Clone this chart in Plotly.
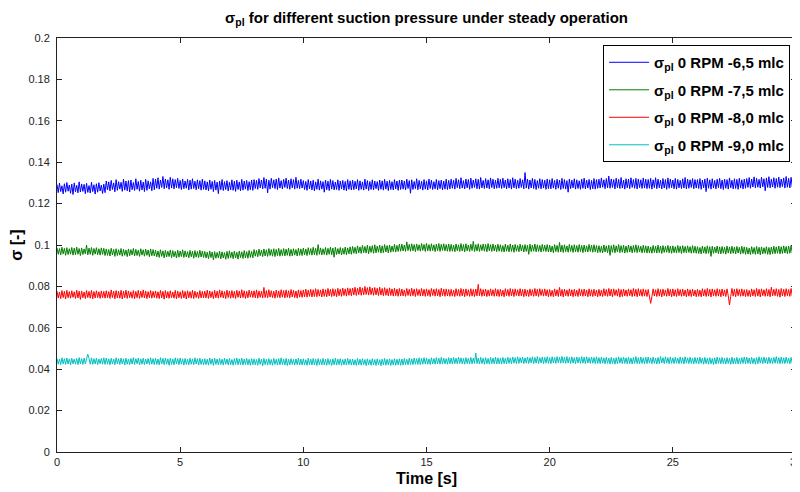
import numpy as np
import plotly.graph_objects as go

# time axis: 0 .. 30 s, 0.05 s sampling
t_start, t_end = 0.0, 30.0

# sigma_pl at 0 RPM, -6,5 mlc
sig_65 = [
0.1292,0.1253,0.1299,0.1258,0.1286,0.1247,0.1296,0.1255,0.1302,0.1260,0.1290,0.1250,0.1294,0.1244,0.1300,0.1257,0.1288,0.1252,0.1305,0.1256,0.1295,0.1259,0.1293,0.1248,0.1298,0.1254,0.1287,0.1251,0.1303,0.1258,0.1291,0.1246,0.1296,0.1255,0.1301,0.1261,0.1289,0.1249,0.1294,0.1253,
0.1309,0.1266,0.1305,0.1261,0.1312,0.1268,0.1300,0.1257,0.1316,0.1264,0.1306,0.1270,0.1303,0.1259,0.1318,0.1265,0.1309,0.1262,0.1311,0.1256,0.1314,0.1267,0.1302,0.1263,0.1320,0.1269,0.1307,0.1260,0.1313,0.1266,0.1304,0.1258,0.1317,0.1264,0.1310,0.1271,0.1305,0.1262,0.1322,0.1267,
0.1318,0.1274,0.1325,0.1270,0.1314,0.1278,0.1331,0.1272,0.1319,0.1276,0.1315,0.1269,0.1327,0.1275,0.1320,0.1271,0.1316,0.1277,0.1322,0.1273,0.1312,0.1268,0.1319,0.1272,0.1309,0.1274,0.1317,0.1266,0.1313,0.1270,0.1320,0.1273,0.1308,0.1267,0.1315,0.1271,0.1311,0.1265,0.1318,0.1269,
0.1310,0.1266,0.1305,0.1262,0.1314,0.1269,0.1307,0.1258,0.1312,0.1265,0.1304,0.1248,0.1309,0.1267,0.1316,0.1263,0.1306,0.1268,0.1311,0.1261,0.1303,0.1266,0.1315,0.1264,0.1308,0.1259,0.1313,0.1268,0.1305,0.1262,0.1317,0.1265,0.1309,0.1270,0.1312,0.1263,0.1306,0.1267,0.1314,0.1264,
0.1316,0.1273,0.1312,0.1269,0.1321,0.1276,0.1314,0.1271,0.1326,0.1274,0.1318,0.1252,0.1313,0.1270,0.1322,0.1277,0.1315,0.1272,0.1319,0.1268,0.1324,0.1275,0.1311,0.1271,0.1317,0.1278,0.1323,0.1273,0.1314,0.1269,0.1320,0.1276,0.1316,0.1270,0.1327,0.1274,0.1312,0.1272,0.1318,0.1275,
0.1311,0.1268,0.1307,0.1264,0.1316,0.1271,0.1309,0.1266,0.1313,0.1262,0.1305,0.1269,0.1318,0.1265,0.1310,0.1270,0.1306,0.1255,0.1314,0.1267,0.1308,0.1263,0.1317,0.1270,0.1311,0.1266,0.1304,0.1268,0.1315,0.1264,0.1309,0.1271,0.1312,0.1265,0.1307,0.1262,0.1316,0.1269,0.1310,0.1266,
0.1313,0.1267,0.1308,0.1271,0.1316,0.1264,0.1310,0.1269,0.1305,0.1265,0.1318,0.1270,0.1311,0.1263,0.1307,0.1268,0.1315,0.1266,0.1309,0.1272,0.1306,0.1264,0.1314,0.1269,0.1310,0.1265,0.1317,0.1270,0.1308,0.1263,0.1312,0.1268,0.1306,0.1266,0.1316,0.1271,0.1309,0.1264,0.1313,0.1268,
0.1314,0.1270,0.1309,0.1266,0.1318,0.1273,0.1311,0.1250,0.1315,0.1268,0.1307,0.1272,0.1320,0.1267,0.1312,0.1271,0.1308,0.1265,0.1316,0.1270,0.1310,0.1266,0.1319,0.1273,0.1313,0.1268,0.1306,0.1271,0.1317,0.1267,0.1311,0.1272,0.1314,0.1266,0.1309,0.1270,0.1318,0.1268,0.1312,0.1271,
0.1318,0.1274,0.1313,0.1270,0.1322,0.1277,0.1315,0.1272,0.1325,0.1275,0.1311,0.1271,0.1319,0.1276,0.1316,0.1269,0.1323,0.1274,0.1314,0.1278,0.1320,0.1272,0.1317,0.1270,0.1326,0.1276,0.1312,0.1273,0.1321,0.1275,0.1315,0.1271,0.1324,0.1277,0.1318,0.1272,0.1313,0.1274,0.1322,0.1276,
0.1317,0.1273,0.1323,0.1277,0.1314,0.1271,0.1320,0.1275,0.1316,0.1270,0.1325,0.1276,0.1318,0.1272,0.1313,0.1274,0.1321,0.1278,0.1315,0.1271,0.1350,0.1275,0.1319,0.1270,0.1314,0.1276,0.1322,0.1273,0.1317,0.1268,0.1311,0.1274,0.1320,0.1271,0.1316,0.1275,0.1313,0.1269,0.1319,0.1272,
0.1315,0.1271,0.1321,0.1275,0.1312,0.1269,0.1318,0.1274,0.1314,0.1268,0.1322,0.1273,0.1316,0.1270,0.1311,0.1255,0.1319,0.1272,0.1313,0.1276,0.1320,0.1270,0.1315,0.1273,0.1310,0.1269,0.1318,0.1274,0.1323,0.1271,0.1314,0.1275,0.1317,0.1268,0.1312,0.1272,0.1321,0.1270,0.1316,0.1274,
0.1318,0.1275,0.1324,0.1279,0.1315,0.1272,0.1321,0.1276,0.1333,0.1274,0.1319,0.1278,0.1316,0.1271,0.1323,0.1277,0.1317,0.1273,0.1326,0.1275,0.1314,0.1270,0.1320,0.1276,0.1318,0.1272,0.1325,0.1278,0.1316,0.1274,0.1322,0.1271,0.1319,0.1277,0.1315,0.1273,0.1324,0.1275,0.1318,0.1272,
0.1317,0.1274,0.1322,0.1270,0.1315,0.1277,0.1325,0.1272,0.1318,0.1276,0.1313,0.1271,0.1321,0.1275,0.1316,0.1269,0.1324,0.1274,0.1319,0.1277,0.1314,0.1272,0.1322,0.1270,0.1317,0.1276,0.1312,0.1273,0.1320,0.1275,0.1326,0.1271,0.1318,0.1274,0.1315,0.1278,0.1321,0.1272,0.1316,0.1275,
0.1316,0.1273,0.1321,0.1269,0.1314,0.1276,0.1319,0.1258,0.1323,0.1274,0.1315,0.1270,0.1320,0.1275,0.1312,0.1271,0.1318,0.1277,0.1322,0.1272,0.1314,0.1268,0.1319,0.1274,0.1316,0.1270,0.1324,0.1276,0.1313,0.1271,0.1320,0.1273,0.1317,0.1269,0.1322,0.1275,0.1315,0.1271,0.1318,0.1274,
0.1321,0.1278,0.1326,0.1274,0.1319,0.1280,0.1329,0.1276,0.1322,0.1279,0.1317,0.1275,0.1327,0.1281,0.1320,0.1262,0.1324,0.1278,0.1330,0.1276,0.1318,0.1280,0.1325,0.1274,0.1321,0.1279,0.1328,0.1277,0.1319,0.1282,0.1324,0.1275,0.1331,0.1279,0.1322,0.1276,0.1327,0.1280,0.1320,0.1278,
0.1305]

# sigma_pl at 0 RPM, -7,5 mlc
sig_75 = [
0.0986,0.0955,0.0983,0.0952,0.0989,0.0957,0.0984,0.0950,0.0987,0.0954,0.0982,0.0956,0.0988,0.0951,0.0985,0.0953,0.0990,0.0955,0.0983,0.0949,0.0986,0.0954,0.0981,0.0957,0.1000,0.0952,0.0985,0.0955,0.0988,0.0950,0.0983,0.0956,0.0987,0.0953,0.0982,0.0951,0.0986,0.0955,0.0984,0.0949,
0.0981,0.0950,0.0978,0.0947,0.0984,0.0952,0.0979,0.0945,0.0982,0.0949,0.0977,0.0951,0.0983,0.0946,0.0980,0.0950,0.0976,0.0944,0.0981,0.0948,0.0978,0.0952,0.0983,0.0947,0.0979,0.0949,0.0975,0.0945,0.0982,0.0951,0.0977,0.0946,0.0980,0.0950,0.0976,0.0943,0.0981,0.0948,0.0978,0.0947,
0.0975,0.0943,0.0971,0.0940,0.0977,0.0945,0.0972,0.0938,0.0974,0.0942,0.0970,0.0944,0.0976,0.0939,0.0973,0.0943,0.0969,0.0937,0.0975,0.0941,0.0971,0.0944,0.0977,0.0940,0.0972,0.0942,0.0968,0.0938,0.0974,0.0943,0.0970,0.0936,0.0973,0.0941,0.0969,0.0939,0.0975,0.0942,0.0971,0.0940,
0.0969,0.0937,0.0965,0.0934,0.0971,0.0939,0.0966,0.0928,0.0968,0.0936,0.0964,0.0938,0.0970,0.0933,0.0967,0.0937,0.0963,0.0931,0.0969,0.0935,0.0972,0.0938,0.0966,0.0934,0.0970,0.0937,0.0965,0.0932,0.0971,0.0939,0.0967,0.0935,0.0973,0.0938,0.0968,0.0936,0.0974,0.0940,0.0969,0.0938,
0.0978,0.0946,0.0974,0.0943,0.0980,0.0948,0.0975,0.0944,0.0981,0.0947,0.0977,0.0945,0.0983,0.0949,0.0978,0.0946,0.0982,0.0944,0.0979,0.0948,0.0984,0.0946,0.0978,0.0949,0.0983,0.0947,0.0980,0.0950,0.0985,0.0946,0.0979,0.0948,0.0982,0.0951,0.0978,0.0947,0.0984,0.0950,0.0981,0.0949,
0.0985,0.0952,0.0981,0.0949,0.0987,0.0954,0.0983,0.0951,0.0989,0.0953,0.0984,0.0950,0.1002,0.0955,0.0986,0.0952,0.0982,0.0954,0.0988,0.0951,0.0984,0.0955,0.0990,0.0953,0.0985,0.0941,0.0989,0.0954,0.0983,0.0956,0.0988,0.0952,0.0984,0.0955,0.0990,0.0953,0.0986,0.0957,0.0991,0.0955,
0.0993,0.0960,0.0989,0.0958,0.0996,0.0962,0.0991,0.0959,0.0998,0.0963,0.0993,0.0961,0.0999,0.0958,0.0994,0.0964,0.0997,0.0960,0.1001,0.0962,0.0995,0.0965,0.0999,0.0961,0.0996,0.0963,0.1002,0.0966,0.0997,0.0962,0.1000,0.0965,0.0995,0.0968,0.1003,0.0966,0.0998,0.0969,0.1004,0.0970,
0.1004,0.0971,0.1000,0.0969,0.1015,0.0973,0.1003,0.0970,0.1006,0.0972,0.1002,0.0968,0.1005,0.0973,0.1001,0.0970,0.1007,0.0974,0.1003,0.0969,0.1008,0.0972,0.1002,0.0970,0.1006,0.0973,0.1001,0.0968,0.1004,0.0972,0.1007,0.0969,0.1003,0.0974,0.1006,0.0971,0.1002,0.0970,0.1005,0.0969,
0.1003,0.0970,0.0999,0.0967,0.1005,0.0972,0.1001,0.0969,0.1007,0.0971,0.1002,0.0967,0.1006,0.0972,0.1000,0.0969,0.1004,0.0973,0.1018,0.0968,0.1002,0.0971,0.1006,0.0969,0.1001,0.0973,0.1005,0.0970,0.1003,0.0967,0.1007,0.0972,0.1002,0.0969,0.1005,0.0971,0.1000,0.0968,0.1004,0.0970,
0.1001,0.0968,0.0997,0.0966,0.1004,0.0970,0.0999,0.0967,0.1005,0.0969,0.1000,0.0965,0.1003,0.0970,0.0998,0.0967,0.1004,0.0971,0.1000,0.0966,0.1002,0.0969,0.0999,0.0955,0.1004,0.0968,0.1000,0.0970,0.1005,0.0967,0.1001,0.0969,0.0998,0.0966,0.1003,0.0970,0.0999,0.0968,0.1002,0.0966,
0.0999,0.0966,0.0995,0.0963,0.1002,0.0968,0.0998,0.0965,0.1012,0.0967,0.0999,0.0964,0.1001,0.0968,0.0996,0.0965,0.1003,0.0969,0.0998,0.0964,0.1001,0.0967,0.0997,0.0965,0.1002,0.0968,0.0998,0.0963,0.1000,0.0967,0.0996,0.0966,0.1003,0.0969,0.0999,0.0965,0.1001,0.0967,0.0997,0.0963,
0.0997,0.0964,0.0993,0.0962,0.1000,0.0966,0.0996,0.0963,0.0999,0.0950,0.0997,0.0965,0.1001,0.0962,0.0996,0.0966,0.1002,0.0963,0.0997,0.0965,0.0999,0.0961,0.0995,0.0964,0.1000,0.0966,0.0996,0.0962,0.0998,0.0965,0.1001,0.0963,0.0997,0.0966,0.0994,0.0962,0.0999,0.0964,0.0996,0.0961,
0.0995,0.0962,0.0991,0.0960,0.0998,0.0964,0.0994,0.0961,0.0999,0.0963,0.0995,0.0959,0.0997,0.0964,0.0993,0.0965,0.0998,0.0962,0.0994,0.0960,0.0996,0.0963,0.0992,0.0961,0.0998,0.0964,0.0994,0.0959,0.0997,0.0963,0.0993,0.0962,0.0996,0.0964,0.0992,0.0960,0.0997,0.0962,0.0994,0.0960,
0.0992,0.0959,0.0988,0.0957,0.0995,0.0961,0.0991,0.0958,0.0996,0.0960,0.0992,0.0945,0.0994,0.0960,0.0990,0.0962,0.0995,0.0958,0.0991,0.0957,0.0993,0.0960,0.0989,0.0956,0.0995,0.0961,0.0991,0.0958,0.0994,0.0960,0.0990,0.0957,0.0993,0.0961,0.0989,0.0956,0.0994,0.0959,0.0991,0.0955,
0.0989,0.0956,0.0985,0.0954,0.0992,0.0958,0.0988,0.0955,0.0993,0.0957,0.0989,0.0953,0.0991,0.0957,0.0987,0.0959,0.0992,0.0955,0.0988,0.0954,0.0990,0.0957,0.0994,0.0958,0.0991,0.0960,0.0995,0.0957,0.0992,0.0959,0.0996,0.0961,0.0993,0.0958,0.0995,0.0960,0.0997,0.0962,0.0994,0.0959,
0.0980]

# sigma_pl at 0 RPM, -8,0 mlc
sig_80 = [
0.0777,0.0744,0.0773,0.0741,0.0780,0.0746,0.0776,0.0739,0.0781,0.0745,0.0775,0.0743,0.0779,0.0747,0.0774,0.0742,0.0782,0.0744,0.0777,0.0737,0.0778,0.0745,0.0773,0.0741,0.0780,0.0746,0.0776,0.0743,0.0781,0.0740,0.0775,0.0744,0.0779,0.0746,0.0774,0.0742,0.0778,0.0745,0.0776,0.0743,
0.0779,0.0745,0.0775,0.0742,0.0783,0.0746,0.0777,0.0740,0.0780,0.0744,0.0776,0.0743,0.0781,0.0739,0.0777,0.0745,0.0782,0.0742,0.0778,0.0746,0.0774,0.0743,0.0780,0.0741,0.0776,0.0745,0.0781,0.0742,0.0777,0.0746,0.0783,0.0744,0.0778,0.0741,0.0775,0.0745,0.0780,0.0743,0.0776,0.0746,
0.0778,0.0743,0.0774,0.0741,0.0781,0.0745,0.0776,0.0738,0.0780,0.0744,0.0775,0.0742,0.0779,0.0746,0.0773,0.0743,0.0781,0.0740,0.0777,0.0745,0.0774,0.0742,0.0780,0.0744,0.0776,0.0739,0.0779,0.0745,0.0775,0.0743,0.0781,0.0741,0.0777,0.0746,0.0773,0.0742,0.0780,0.0744,0.0776,0.0745,
0.0777,0.0744,0.0782,0.0742,0.0778,0.0746,0.0775,0.0741,0.0781,0.0745,0.0777,0.0743,0.0783,0.0747,0.0779,0.0744,0.0775,0.0741,0.0782,0.0746,0.0778,0.0743,0.0780,0.0745,0.0776,0.0742,0.0781,0.0747,0.0778,0.0744,0.0784,0.0746,0.0779,0.0742,0.0776,0.0745,0.0782,0.0748,0.0778,0.0746,
0.0779,0.0745,0.0783,0.0743,0.0778,0.0747,0.0776,0.0744,0.0795,0.0746,0.0780,0.0745,0.0784,0.0748,0.0779,0.0746,0.0777,0.0743,0.0782,0.0747,0.0778,0.0745,0.0784,0.0748,0.0780,0.0744,0.0783,0.0747,0.0779,0.0745,0.0785,0.0749,0.0781,0.0746,0.0778,0.0743,0.0783,0.0748,0.0780,0.0747,
0.0783,0.0750,0.0787,0.0748,0.0782,0.0752,0.0786,0.0749,0.0784,0.0751,0.0789,0.0750,0.0785,0.0753,0.0783,0.0749,0.0788,0.0752,0.0784,0.0750,0.0790,0.0754,0.0786,0.0751,0.0789,0.0753,0.0785,0.0750,0.0791,0.0755,0.0787,0.0752,0.0792,0.0756,0.0788,0.0753,0.0793,0.0757,0.0790,0.0755,
0.0792,0.0758,0.0796,0.0756,0.0791,0.0760,0.0797,0.0757,0.0793,0.0759,0.0800,0.0761,0.0794,0.0758,0.0798,0.0760,0.0792,0.0757,0.0795,0.0759,0.0791,0.0756,0.0796,0.0758,0.0790,0.0755,0.0794,0.0757,0.0789,0.0754,0.0793,0.0756,0.0788,0.0753,0.0791,0.0755,0.0787,0.0752,0.0790,0.0754,
0.0787,0.0754,0.0783,0.0752,0.0790,0.0756,0.0786,0.0753,0.0791,0.0755,0.0787,0.0751,0.0789,0.0756,0.0785,0.0753,0.0790,0.0754,0.0786,0.0752,0.0788,0.0755,0.0784,0.0751,0.0790,0.0756,0.0786,0.0753,0.0789,0.0754,0.0785,0.0750,0.0791,0.0755,0.0787,0.0752,0.0788,0.0754,0.0785,0.0752,
0.0786,0.0753,0.0782,0.0751,0.0789,0.0755,0.0785,0.0752,0.0790,0.0754,0.0786,0.0750,0.0788,0.0755,0.0784,0.0752,0.0789,0.0753,0.0785,0.0751,0.0787,0.0754,0.0810,0.0755,0.0789,0.0752,0.0785,0.0754,0.0787,0.0751,0.0783,0.0753,0.0788,0.0755,0.0784,0.0752,0.0789,0.0753,0.0785,0.0751,
0.0786,0.0753,0.0782,0.0750,0.0789,0.0755,0.0785,0.0752,0.0790,0.0754,0.0786,0.0751,0.0788,0.0756,0.0784,0.0753,0.0789,0.0754,0.0785,0.0750,0.0787,0.0753,0.0783,0.0751,0.0788,0.0755,0.0784,0.0752,0.0790,0.0754,0.0786,0.0751,0.0789,0.0756,0.0785,0.0753,0.0788,0.0754,0.0784,0.0750,
0.0785,0.0752,0.0781,0.0750,0.0788,0.0754,0.0784,0.0751,0.0795,0.0753,0.0785,0.0749,0.0787,0.0755,0.0783,0.0752,0.0788,0.0754,0.0784,0.0750,0.0786,0.0753,0.0782,0.0751,0.0789,0.0755,0.0785,0.0752,0.0787,0.0754,0.0783,0.0750,0.0788,0.0753,0.0784,0.0751,0.0786,0.0754,0.0782,0.0750,
0.0786,0.0753,0.0782,0.0751,0.0789,0.0755,0.0785,0.0752,0.0790,0.0754,0.0786,0.0750,0.0788,0.0756,0.0784,0.0753,0.0789,0.0748,0.0785,0.0751,0.0787,0.0754,0.0783,0.0752,0.0788,0.0755,0.0784,0.0751,0.0790,0.0753,0.0786,0.0750,0.0789,0.0755,0.0785,0.0752,0.0788,0.0753,0.0784,0.0751,
0.0785,0.0752,0.0718,0.0750,0.0788,0.0754,0.0784,0.0751,0.0789,0.0753,0.0785,0.0749,0.0787,0.0755,0.0783,0.0752,0.0790,0.0754,0.0786,0.0750,0.0788,0.0753,0.0784,0.0751,0.0789,0.0755,0.0785,0.0752,0.0787,0.0754,0.0783,0.0750,0.0788,0.0753,0.0784,0.0751,0.0786,0.0754,0.0782,0.0750,
0.0786,0.0752,0.0782,0.0750,0.0789,0.0754,0.0785,0.0751,0.0790,0.0753,0.0786,0.0749,0.0788,0.0755,0.0784,0.0752,0.0789,0.0753,0.0785,0.0750,0.0787,0.0754,0.0783,0.0751,0.0788,0.0755,0.0710,0.0752,0.0790,0.0753,0.0786,0.0750,0.0789,0.0755,0.0785,0.0752,0.0788,0.0753,0.0784,0.0751,
0.0785,0.0752,0.0781,0.0750,0.0788,0.0754,0.0784,0.0751,0.0790,0.0753,0.0786,0.0749,0.0788,0.0755,0.0784,0.0752,0.0789,0.0753,0.0785,0.0750,0.0796,0.0754,0.0786,0.0755,0.0789,0.0752,0.0785,0.0748,0.0790,0.0754,0.0786,0.0751,0.0789,0.0755,0.0785,0.0752,0.0790,0.0754,0.0786,0.0753,
0.0775]

# sigma_pl at 0 RPM, -9,0 mlc
sig_90 = [
0.0452,0.0424,0.0449,0.0422,0.0455,0.0426,0.0451,0.0423,0.0454,0.0425,0.0450,0.0421,0.0453,0.0426,0.0449,0.0424,0.0452,0.0422,0.0456,0.0425,0.0451,0.0423,0.0454,0.0426,0.0450,0.0472,0.0452,0.0424,0.0455,0.0423,0.0451,0.0425,0.0453,0.0422,0.0449,0.0426,0.0452,0.0424,0.0455,0.0423,
0.0454,0.0424,0.0450,0.0421,0.0453,0.0425,0.0449,0.0422,0.0455,0.0426,0.0451,0.0423,0.0454,0.0425,0.0450,0.0420,0.0453,0.0424,0.0449,0.0422,0.0452,0.0425,0.0456,0.0423,0.0451,0.0426,0.0454,0.0421,0.0450,0.0424,0.0453,0.0422,0.0449,0.0425,0.0452,0.0423,0.0455,0.0424,0.0451,0.0422,
0.0453,0.0423,0.0449,0.0421,0.0456,0.0425,0.0452,0.0422,0.0454,0.0424,0.0450,0.0419,0.0453,0.0423,0.0449,0.0421,0.0455,0.0425,0.0451,0.0422,0.0454,0.0424,0.0450,0.0420,0.0452,0.0423,0.0448,0.0421,0.0453,0.0424,0.0450,0.0422,0.0455,0.0425,0.0451,0.0420,0.0453,0.0423,0.0449,0.0421,
0.0451,0.0422,0.0448,0.0420,0.0454,0.0424,0.0450,0.0418,0.0453,0.0423,0.0449,0.0421,0.0452,0.0423,0.0448,0.0420,0.0453,0.0424,0.0449,0.0421,0.0452,0.0422,0.0447,0.0419,0.0451,0.0423,0.0454,0.0421,0.0450,0.0422,0.0453,0.0420,0.0449,0.0423,0.0452,0.0421,0.0448,0.0419,0.0451,0.0422,
0.0450,0.0421,0.0447,0.0419,0.0453,0.0423,0.0449,0.0417,0.0452,0.0422,0.0448,0.0420,0.0451,0.0422,0.0447,0.0419,0.0452,0.0423,0.0448,0.0420,0.0451,0.0421,0.0455,0.0422,0.0449,0.0420,0.0452,0.0418,0.0448,0.0421,0.0451,0.0423,0.0447,0.0420,0.0450,0.0422,0.0453,0.0421,0.0449,0.0420,
0.0450,0.0421,0.0446,0.0419,0.0453,0.0422,0.0449,0.0420,0.0452,0.0421,0.0448,0.0418,0.0451,0.0422,0.0447,0.0420,0.0452,0.0421,0.0448,0.0419,0.0451,0.0422,0.0447,0.0418,0.0450,0.0421,0.0453,0.0420,0.0449,0.0422,0.0451,0.0419,0.0447,0.0421,0.0450,0.0420,0.0452,0.0422,0.0448,0.0420,
0.0449,0.0420,0.0446,0.0418,0.0452,0.0421,0.0448,0.0419,0.0451,0.0422,0.0447,0.0417,0.0450,0.0421,0.0446,0.0419,0.0451,0.0420,0.0447,0.0418,0.0450,0.0421,0.0446,0.0417,0.0449,0.0420,0.0452,0.0419,0.0448,0.0421,0.0450,0.0418,0.0447,0.0420,0.0451,0.0419,0.0448,0.0421,0.0450,0.0419,
0.0449,0.0420,0.0452,0.0422,0.0448,0.0421,0.0453,0.0423,0.0450,0.0422,0.0454,0.0424,0.0451,0.0423,0.0455,0.0422,0.0452,0.0424,0.0456,0.0425,0.0453,0.0424,0.0450,0.0423,0.0455,0.0425,0.0452,0.0424,0.0456,0.0426,0.0453,0.0424,0.0457,0.0425,0.0454,0.0426,0.0451,0.0424,0.0456,0.0426,
0.0454,0.0425,0.0457,0.0427,0.0453,0.0426,0.0458,0.0428,0.0455,0.0426,0.0452,0.0424,0.0456,0.0427,0.0453,0.0425,0.0457,0.0426,0.0454,0.0428,0.0478,0.0427,0.0454,0.0425,0.0457,0.0427,0.0453,0.0424,0.0456,0.0426,0.0452,0.0425,0.0457,0.0427,0.0454,0.0426,0.0458,0.0425,0.0455,0.0426,
0.0454,0.0425,0.0457,0.0427,0.0453,0.0426,0.0458,0.0428,0.0455,0.0427,0.0459,0.0429,0.0456,0.0427,0.0460,0.0428,0.0456,0.0430,0.0459,0.0427,0.0455,0.0429,0.0459,0.0428,0.0456,0.0430,0.0460,0.0427,0.0457,0.0429,0.0461,0.0428,0.0456,0.0430,0.0459,0.0427,0.0457,0.0429,0.0460,0.0428,
0.0456,0.0427,0.0460,0.0430,0.0457,0.0428,0.0461,0.0431,0.0458,0.0429,0.0462,0.0430,0.0458,0.0428,0.0461,0.0430,0.0457,0.0428,0.0460,0.0429,0.0456,0.0427,0.0459,0.0430,0.0457,0.0428,0.0461,0.0429,0.0458,0.0427,0.0460,0.0430,0.0456,0.0428,0.0459,0.0429,0.0457,0.0427,0.0460,0.0428,
0.0456,0.0427,0.0459,0.0429,0.0455,0.0426,0.0458,0.0428,0.0454,0.0425,0.0457,0.0427,0.0453,0.0424,0.0456,0.0426,0.0460,0.0429,0.0456,0.0427,0.0459,0.0428,0.0455,0.0426,0.0458,0.0427,0.0454,0.0425,0.0457,0.0428,0.0461,0.0427,0.0456,0.0426,0.0459,0.0428,0.0455,0.0426,0.0458,0.0427,
0.0459,0.0429,0.0455,0.0426,0.0458,0.0428,0.0454,0.0425,0.0457,0.0427,0.0461,0.0430,0.0456,0.0427,0.0460,0.0429,0.0456,0.0426,0.0459,0.0428,0.0455,0.0427,0.0458,0.0429,0.0454,0.0426,0.0459,0.0428,0.0456,0.0425,0.0460,0.0429,0.0455,0.0427,0.0458,0.0428,0.0454,0.0426,0.0457,0.0428,
0.0455,0.0426,0.0458,0.0428,0.0454,0.0424,0.0457,0.0427,0.0453,0.0424,0.0456,0.0426,0.0452,0.0423,0.0455,0.0425,0.0459,0.0428,0.0455,0.0426,0.0457,0.0427,0.0453,0.0425,0.0456,0.0428,0.0452,0.0424,0.0458,0.0426,0.0454,0.0427,0.0457,0.0425,0.0453,0.0426,0.0456,0.0428,0.0459,0.0427,
0.0458,0.0428,0.0454,0.0425,0.0457,0.0427,0.0453,0.0424,0.0456,0.0426,0.0460,0.0429,0.0456,0.0427,0.0459,0.0429,0.0455,0.0426,0.0458,0.0428,0.0454,0.0427,0.0457,0.0429,0.0461,0.0428,0.0456,0.0426,0.0459,0.0428,0.0455,0.0427,0.0458,0.0429,0.0454,0.0426,0.0457,0.0428,0.0460,0.0429,
0.0446]

series_names = [
    "σ<sub>pl</sub> 0 RPM -6,5 mlc",
    "σ<sub>pl</sub> 0 RPM -7,5 mlc",
    "σ<sub>pl</sub> 0 RPM -8,0 mlc",
    "σ<sub>pl</sub> 0 RPM -9,0 mlc",
]
series_colors = ["#0000FF", "#008000", "#FF0000", "#00BFBF"]
x_ticks = [0, 5, 10, 15, 20, 25, 30]
y_ticks = [0, 0.02, 0.04, 0.06, 0.08, 0.1, 0.12, 0.14, 0.16, 0.18, 0.2]

FONT = "Liberation Sans, Arial, sans-serif"
fig = go.Figure()
for i, (name, ys, col) in enumerate(zip(series_names, [sig_65, sig_75, sig_80, sig_90], series_colors)):
    time = np.linspace(t_start, t_end, len(ys))
    fig.add_trace(go.Scatter(x=time, y=ys, mode="lines", name="<b>" + name + "</b>",
                             legendgroup="g%d" % i,
                             line=dict(color=col, width=1)))

axis_common = dict(showline=True, linecolor="#222", linewidth=1, mirror="ticks",
                   ticks="inside", ticklen=5, tickcolor="#222", showgrid=False,
                   zeroline=False, automargin=False, ticklabeloverflow="allow",
                   tickfont=dict(family=FONT, size=11, color="#222"))

# the page body adds an 8px offset, so the figure is 792x484 on screen
fig.update_layout(
    width=792, height=484,
    margin=dict(l=49, r=4, t=30, b=40),
    paper_bgcolor="white", plot_bgcolor="white",
    title=dict(text="<b>σ<sub>pl</sub> for different suction pressure under steady operation</b>",
               xref="paper", x=0.5, xanchor="center", yref="container", y=0.98, yanchor="middle",
               font=dict(family=FONT, size=15, color="black")),
    xaxis=dict(range=[0, 30], tickvals=x_ticks,
               title=dict(text="<b>Time [s]</b>", standoff=5,
                          font=dict(family=FONT, size=16, color="black")),
               **axis_common),
    yaxis=dict(range=[0, 0.2], tickvals=y_ticks, ticklabelstandoff=4,
               title=dict(text="<b>σ [-]</b>", standoff=1,
                          font=dict(family=FONT, size=16, color="black")),
               **axis_common),
    legend=dict(x=0.992, xanchor="right", y=0.983, yanchor="top",
                bgcolor="white", bordercolor="black", borderwidth=1,
                font=dict(family=FONT, size=15, color="black"),
                itemwidth=40, tracegroupgap=5),
    showlegend=True,
)

fig.write_html("out.html")
